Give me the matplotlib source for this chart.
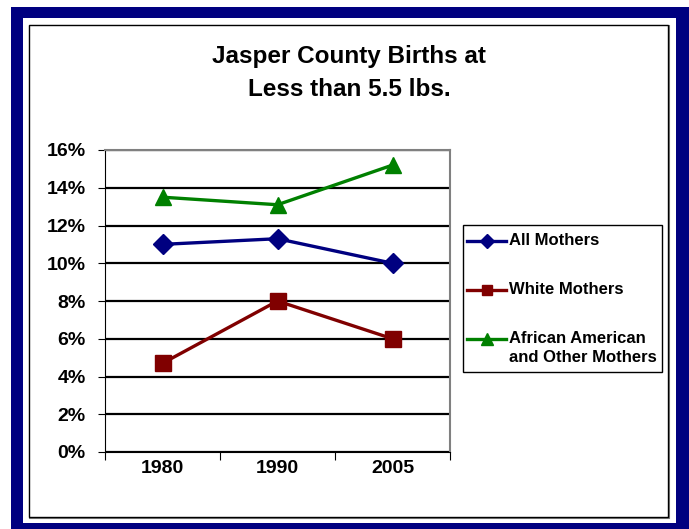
import matplotlib.pyplot as plt
from matplotlib.patches import Rectangle
from matplotlib.lines import Line2D
from matplotlib.ticker import PercentFormatter

plt.rcParams['font.family'] = ['Liberation Sans', 'DejaVu Sans']
plt.rcParams['font.weight'] = 'bold'

years = ['1980', '1990', '2005']
all_mothers = [11.0, 11.3, 10.0]
white_mothers = [4.7, 8.0, 6.0]
aa_other_mothers = [13.5, 13.1, 15.2]

series = [
    ('All Mothers', all_mothers, '#000080', 'D'),
    ('White Mothers', white_mothers, '#800000', 's'),
    ('African American\nand Other Mothers', aa_other_mothers, '#008000', '^'),
]

W, H = 689, 529
fig = plt.figure(figsize=(W / 100, H / 100), dpi=100)


def fx(px):
    return px / W


def fy(py):
    return 1 - py / H


def box(x0, y0, x1, y1, **kw):
    # pixel coords from top-left -> figure fraction
    return Rectangle((fx(x0), fy(y1)), (x1 - x0) / W, (y1 - y0) / H,
                     transform=fig.transFigure, zorder=-5, **kw)


fig.patches.append(box(11, 7, 689, 529, facecolor='#000080', edgecolor='none'))
fig.patches.append(box(23, 18, 676, 523, facecolor='white', edgecolor='none'))
fig.patches.append(box(30, 26, 669, 518, facecolor='none', edgecolor='#808080', lw=1.5))
fig.patches.append(box(29, 25, 668, 517, facecolor='white', edgecolor='black', lw=1.0))

ax = fig.add_axes([fx(105), fy(452), (450 - 105) / W, (452 - 150) / H])
x = range(len(years))
sizes = {'D': 10, 's': 11, '^': 12}
for label, vals, color, m in series:
    ax.plot(x, vals, color=color, lw=2.4, marker=m, ms=sizes[m], label=label)

ax.set_xlim(-0.5, 2.5)
ax.set_ylim(0, 16)
ax.set_yticks(range(0, 17, 2))
ax.yaxis.set_major_formatter(PercentFormatter(decimals=0))
ax.grid(axis='y', color='black', lw=1.6)
ax.set_axisbelow(True)

ax.set_xticks([-0.5, 0.5, 1.5, 2.5])
ax.set_xticklabels([])
ax.set_xticks(list(x), minor=True)
ax.set_xticklabels(years, minor=True)
ax.tick_params(axis='x', which='minor', length=0, pad=6, labelsize=14)
ax.tick_params(axis='x', which='major', length=6, direction='out')
ax.tick_params(axis='y', length=5, direction='out', pad=9, labelsize=14)

for s in ['top', 'right']:
    ax.spines[s].set_color('#808080')
    ax.spines[s].set_linewidth(1.5)

fig.text(fx(349), fy(73), 'Jasper County Births at\nLess than 5.5 lbs.',
         ha='center', va='center', fontsize=17.5, fontweight='bold', linespacing=1.5)

# legend box drawn by hand so the marker sits on the first text line
fig.patches.append(box(463, 225, 662, 372, facecolor='white', edgecolor='black', lw=1.0))
leg_y = [241, 290, 339]
for (label, vals, color, m), py in zip(series, leg_y):
    fig.add_artist(Line2D([fx(467), fx(506)], [fy(py), fy(py)], transform=fig.transFigure,
                          color=color, lw=2.4))
    fig.add_artist(Line2D([fx(486.5)], [fy(py)], transform=fig.transFigure,
                          color=color, marker=m, ms=7 if m != '^' else 8))
    fig.text(fx(509), fy(py - 8), label, ha='left', va='top', fontsize=12,
             fontweight='bold', linespacing=1.35)

fig.savefig('out.png', dpi=100)
